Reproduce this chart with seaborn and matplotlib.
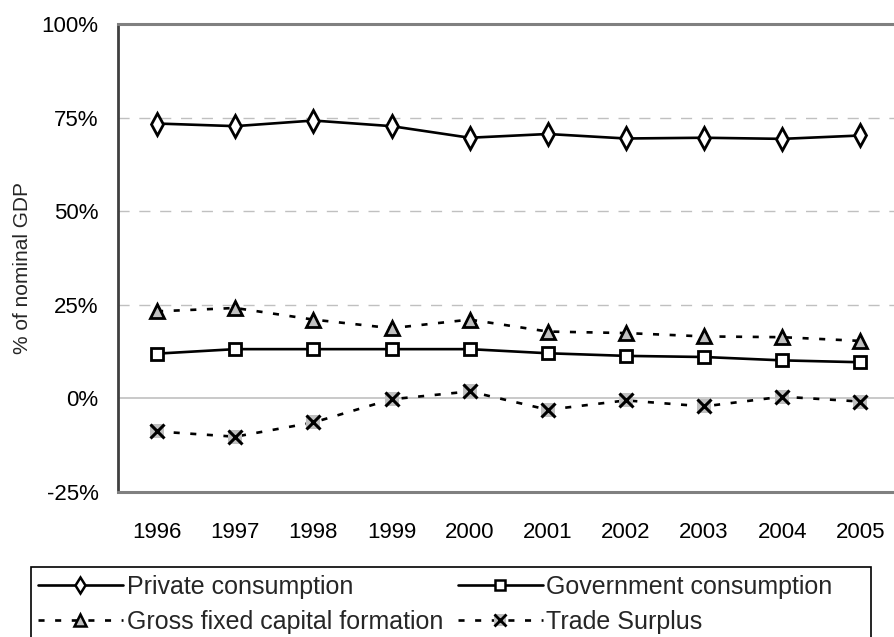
import matplotlib
matplotlib.use("Agg")
import matplotlib.pyplot as plt
from matplotlib.lines import Line2D
from matplotlib.patches import Rectangle
import seaborn as sns
import pandas as pd

# Expenditure shares of nominal GDP (%)
years = ["1996", "1997", "1998", "1999", "2000", "2001", "2002", "2003", "2004", "2005"]
private_consumption = [73.4, 72.7, 74.2, 72.7, 69.6, 70.6, 69.4, 69.6, 69.3, 70.2]
government_consumption = [11.9, 13.1, 13.1, 13.1, 13.1, 12.0, 11.3, 11.0, 10.1, 9.6]
gross_fixed_capital = [23.2, 24.1, 21.0, 18.7, 21.0, 17.8, 17.4, 16.5, 16.3, 15.3]
trade_surplus = [-8.9, -10.3, -6.5, -0.3, 1.8, -3.1, -0.6, -2.2, 0.4, -0.9]

series_names = ["Private consumption", "Government consumption",
                "Gross fixed capital formation", "Trade Surplus"]
y_ticks = [-25, 0, 25, 50, 75, 100]
y_tick_labels = ["-25%", "0%", "25%", "50%", "75%", "100%"]
y_label = "% of nominal GDP"

sns.set_style("white")
plt.rcParams["font.family"] = ["Liberation Sans", "DejaVu Sans"]

W, H = 895, 637
fig = plt.figure(figsize=(W / 100, H / 100), dpi=100)
ax = fig.add_axes([118 / W, 145.3 / H, 781.5 / W, 467.7 / H])

df = pd.DataFrame({
    "year": years,
    series_names[0]: private_consumption,
    series_names[1]: government_consumption,
    series_names[2]: gross_fixed_capital,
    series_names[3]: trade_surplus,
})

LW = 1.9
GRAY = "#c0c0c0"
dotted = (0, (2.3, 4.0))

# reference lines
for v in [25, 50, 75]:
    ax.axhline(v, color=GRAY, lw=1, ls=(0, (8, 7)), zorder=0)
ax.axhline(0, color=GRAY, lw=1.2, ls="-", zorder=0)

sns.lineplot(data=df, x="year", y=series_names[0], ax=ax, color="black", lw=LW,
             marker="d", markersize=11, markerfacecolor="white",
             markeredgecolor="black", markeredgewidth=2, zorder=3)
sns.lineplot(data=df, x="year", y=series_names[1], ax=ax, color="black", lw=LW,
             marker="s", markersize=8, markerfacecolor="white",
             markeredgecolor="black", markeredgewidth=2, zorder=3)
sns.lineplot(data=df, x="year", y=series_names[2], ax=ax, color="black", lw=LW,
             ls=dotted, marker="^", markersize=9.5, markerfacecolor=GRAY,
             markeredgecolor="black", markeredgewidth=2, zorder=3)
sns.lineplot(data=df, x="year", y=series_names[3], ax=ax, color="black", lw=LW,
             ls=dotted, marker="s", markersize=9.5, markerfacecolor=GRAY,
             markeredgecolor=GRAY, markeredgewidth=0, zorder=3)
sns.lineplot(data=df, x="year", y=series_names[3], ax=ax, color="black", lw=0,
             ls="none", marker="x", markersize=9.5, markeredgecolor="black",
             markeredgewidth=2.2, zorder=4)

ax.set_xlim(-0.5, len(years) - 0.5)
ax.set_ylim(-25, 100)
ax.set_yticks(y_ticks)
ax.set_yticklabels(y_tick_labels)
ax.set_xlabel("")
ax.set_ylabel(y_label, fontsize=15)
ax.yaxis.set_label_coords(-0.110, 0.479)

ax.tick_params(axis="y", direction="in", length=6, width=1.5, color="#404040",
               pad=14, labelsize=16, labelcolor="black")
ax.tick_params(axis="x", length=0, pad=21.5, labelsize=16, labelcolor="black")

for side in ["top", "bottom"]:
    ax.spines[side].set_color("#808080")
    ax.spines[side].set_linewidth(2.2)
ax.spines["left"].set_color("#404040")
ax.spines["left"].set_linewidth(2)
ax.spines["right"].set_visible(False)

# legend: rows filled across, two columns, smaller markers than the plot
def handle(ls, marker, ms, fc, ec):
    return Line2D([], [], color="black", lw=LW, ls=ls, marker=marker,
                  markersize=ms, markerfacecolor=fc, markeredgecolor=ec,
                  markeredgewidth=1.8)

h_private = handle("-", "d", 8.5, "white", "black")
h_gov = handle("-", "s", 6.5, "white", "black")
h_gfcf = handle(dotted, "^", 8, GRAY, "black")
h_trade = (Line2D([], [], color="black", lw=LW, ls=dotted, marker="s",
                  markersize=8, markerfacecolor=GRAY, markeredgewidth=0),
           Line2D([], [], ls="none", marker="x", markersize=8,
                  markeredgecolor="black", markeredgewidth=2))

fig.legend([h_private, h_gfcf, h_gov, h_trade],
           [series_names[0], series_names[2], series_names[1], series_names[3]],
           ncol=2, loc="upper left", bbox_to_anchor=(38 / W, 1 - 575 / H),
           bbox_transform=fig.transFigure, frameon=False, fontsize=18,
           handlelength=3.4, handletextpad=0.15, columnspacing=0.58,
           borderpad=0, borderaxespad=0, labelspacing=0.42)

fig.patches.append(Rectangle((30.7 / W, -0.05), (871 - 30.7) / W, 1 - 567 / H + 0.05,
                             transform=fig.transFigure, fill=False,
                             edgecolor="black", lw=1.2))

fig.savefig("out.png", dpi=100)
